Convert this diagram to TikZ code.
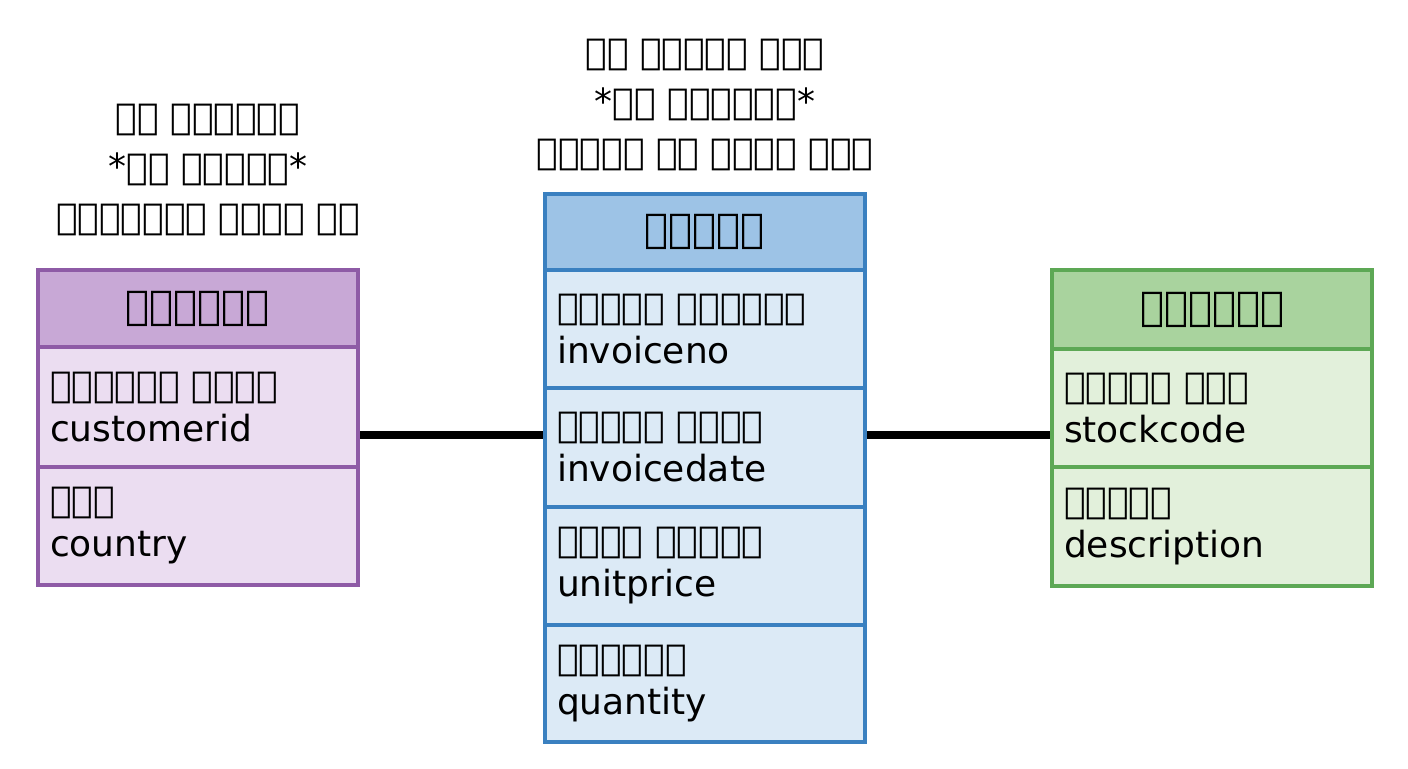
\documentclass[tikz,border=0pt]{standalone}
\usepackage{fontspec}
\setmainfont{DejaVu Sans}
\begin{document}
\begin{tikzpicture}[x=0.5pt,y=-0.5pt,
  cell/.style={draw=#1b, fill=#1c, line width=2pt, anchor=north west, minimum width=160pt, text width=148pt, inner xsep=6pt, align=left, font=\fontsize{18}{22}\selectfont},
  head/.style={draw=#1b, fill=#1a, line width=2pt, anchor=north west, minimum width=160pt, align=center, font=\fontsize{20}{24}\selectfont\bfseries},
  note/.style={align=center, font=\fontsize{18}{25}\selectfont},
  link/.style={line width=4pt, black}]
\definecolor{pa}{HTML}{C8A8D6}\definecolor{pb}{HTML}{8E5BA6}\definecolor{pc}{HTML}{EBDDF1}
\definecolor{ba}{HTML}{9DC3E6}\definecolor{bb}{HTML}{3A80C0}\definecolor{bc}{HTML}{DCEAF6}
\definecolor{ga}{HTML}{A9D39E}\definecolor{gb}{HTML}{5DA855}\definecolor{gc}{HTML}{E2F0DB}
\useasboundingbox (0,0) rectangle (1408,768);
% customer
\node[head=p, minimum height=38.5pt] (ch) at (36,268) {ग्राहक};
\node[cell=p, minimum height=60pt] (c1) at (36,345) {ग्राहक आईडी\\customerid};
\node[cell=p, minimum height=59pt] (c2) at (36,465) {देश\\country};
% order
\node[head=b, minimum height=38pt] (oh) at (543,192) {ऑर्डर};
\node[cell=b, minimum height=59pt] (o1) at (543,268) {चालान संख्या\\invoiceno};
\node[cell=b, minimum height=59.5pt] (o2) at (543,386) {चालान तिथि\\invoicedate};
\node[cell=b, minimum height=59pt] (o3) at (543,505) {इकाई मूल्य\\unitprice};
\node[cell=b, minimum height=58.5pt] (o4) at (543,623) {मात्रा\\quantity};
% product
\node[head=g, minimum height=39.5pt] (ph) at (1050,268) {उत्पाद};
\node[cell=g, minimum height=59pt] (p1) at (1050,347) {स्टॉक कोड\\stockcode};
\node[cell=g, minimum height=59.5pt] (p2) at (1050,465) {विवरण\\description};
% notes
\node[note] (n1) at (208,170) {एक ग्राहक\\*कई ऑर्डर*\\उत्पन्न करता है};
\node[note] (n2) at (705,105) {एक ऑर्डर में\\*कई उत्पाद*\\शामिल हो सकते हैं};
% links
\coordinate (m) at (0,435);
\draw[link] (c1.east|-m) -- (o2.west|-m);
\draw[link] (o2.east|-m) -- (p1.west|-m);
\end{tikzpicture}
\end{document}
